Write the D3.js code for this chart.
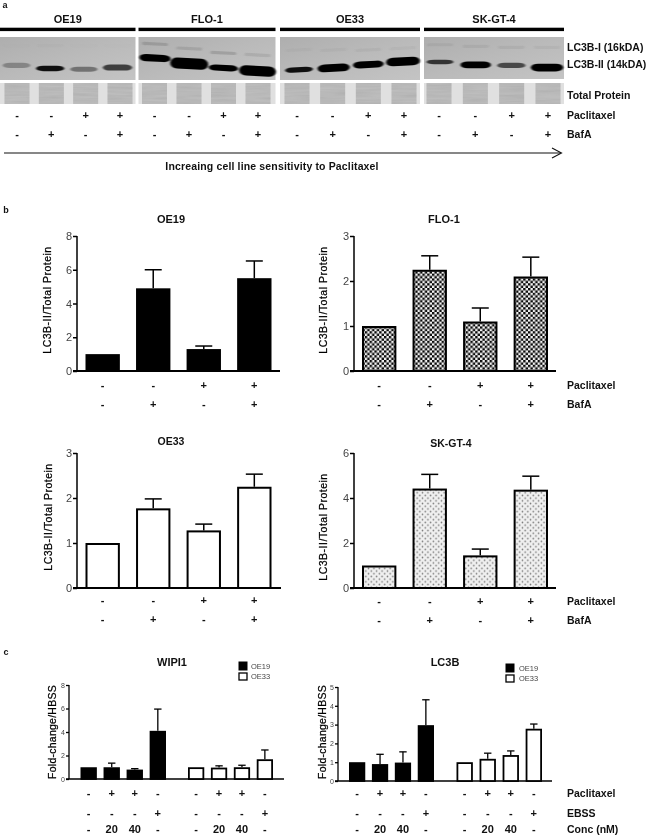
<!DOCTYPE html>
<html><head><meta charset="utf-8">
<script src="https://cdn.jsdelivr.net/npm/d3@7"></script>
<style>html,body{margin:0;padding:0;background:#fff}svg{display:block;filter:blur(0.3px)}text{font-family:"Liberation Sans",Arial,sans-serif;fill:#111}</style>
</head><body><svg id="c" width="649" height="835"></svg>
<script>
// ---- data ----
const cellLines = ["OE19","FLO-1","OE33","SK-GT-4"];
const paclitaxelSigns = ["-","-","+","+"];
const bafASigns = ["-","+","-","+"];
const oe19Values = [1,4.9,1.3,5.5];
const oe19Tops = [null,6.0,1.48,6.52];
const flo1Values = [1,2.25,1.1,2.1];
const flo1Tops = [null,2.56,1.4,2.53];
const oe33Values = [1,1.77,1.28,2.25];
const oe33Tops = [null,1.98,1.42,2.53];
const skgt4Values = [1,4.42,1.45,4.37];
const skgt4Tops = [null,5.05,1.73,4.97];
const wipiOE19 = [1,1,0.8,4.1];
const wipiOE19Tops = [null,1.35,0.88,5.95];
const wipiOE33 = [1,0.97,1,1.68];
const wipiOE33Tops = [null,1.12,1.17,2.47];
const lc3bOE19 = [1,0.9,0.98,2.97];
const lc3bOE19Tops = [null,1.42,1.55,4.32];
const lc3bOE33 = [1,1.18,1.38,2.78];
const lc3bOE33Tops = [null,1.48,1.6,3.03];
const cPaclitaxel = ["-","+","+","-"];
const cEBSS = ["-","-","-","+"];
const cConc = ["-","20","40","-"];
// blot band estimates: migration (0 top .. 1 bottom), amount (band size 0..1), density (darkness 0..1)
const bandIIMigration = [[.66,.73,.75,.71],[.49,.62,.72,.79],[.76,.72,.64,.57],[.58,.65,.66,.71]];
const bandIIAmount = [[.3,.35,.28,.42],[.55,1,.42,.92],[.32,.62,.52,.72],[.25,.5,.35,.62]];
const bandIIDensity = [[.28,.92,.4,.68],[1,1,1,1],[.92,1,1,1],[.72,1,.62,1]];
const bandIMigration = [[.2,.2,.2,.2],[.16,.27,.37,.42],[.3,.3,.3,.26],[.18,.22,.24,.24]];
const bandIDensity = [[.02,.03,.02,.02],[.3,.22,.3,.18],[.06,.07,.09,.08],[.12,.12,.12,.09]];

const svg = d3.select("#c");
const FS = '"Liberation Sans",Arial,sans-serif';
function txt(x,y,s,o={}){
  const t=svg.append("text").attr("x",x).attr("y",y).text(s)
    .attr("font-size",o.size||10).attr("font-weight",o.w||"bold")
    .attr("text-anchor",o.a||"middle").attr("dominant-baseline","central");
  if(o.ls)t.attr("letter-spacing",o.ls);
  if(o.fill)t.style("fill",o.fill);
  if(o.rot)t.attr("transform",`rotate(-90 ${x} ${y})`);
  return t;
}
const defs = svg.append("defs");
// patterns
const chk = defs.append("pattern").attr("id","chk").attr("width",4.8).attr("height",4.8).attr("patternUnits","userSpaceOnUse");
chk.append("rect").attr("width",4.8).attr("height",4.8).attr("fill","#f4f4f4");
chk.append("rect").attr("width",2.4).attr("height",2.4).attr("fill","#0a0a0a");
chk.append("rect").attr("x",2.4).attr("y",2.4).attr("width",2.4).attr("height",2.4).attr("fill","#0a0a0a");
const dot = defs.append("pattern").attr("id","dot").attr("width",5.4).attr("height",5.4).attr("patternUnits","userSpaceOnUse");
dot.append("rect").attr("width",5.4).attr("height",5.4).attr("fill","#f0f0f0");
dot.append("circle").attr("cx",1.35).attr("cy",1.35).attr("r",.8).attr("fill","#777");
dot.append("circle").attr("cx",4.05).attr("cy",4.05).attr("r",.8).attr("fill","#777");
// band blur
defs.append("filter").attr("id","blur").attr("x","-30%").attr("y","-80%").attr("width","160%").attr("height","260%")
  .append("feGaussianBlur").attr("stdDeviation","0.9 0.7");
const bg = defs.append("linearGradient").attr("id","bgGrad").attr("x1",0).attr("y1",0).attr("x2",1).attr("y2",1);
bg.append("stop").attr("offset",0).attr("stop-color","#aeaeae");
bg.append("stop").attr("offset",.5).attr("stop-color","#bababa");
bg.append("stop").attr("offset",1).attr("stop-color","#c4c4c4");
const tex = defs.append("filter").attr("id","tex").attr("x",0).attr("y",0).attr("width","100%").attr("height","100%");
tex.append("feTurbulence").attr("type","fractalNoise").attr("baseFrequency","0.03 0.4").attr("numOctaves",2).attr("seed",4).attr("result","n");
tex.append("feColorMatrix").attr("in","n").attr("type","matrix").attr("values","0 0 0 0 .3  0 0 0 0 .3  0 0 0 0 .3  .5 0 0 0 -.12").attr("result","m");
tex.append("feComposite").attr("in","m").attr("in2","SourceGraphic").attr("operator","in").attr("result","c");
const mg = tex.append("feMerge"); mg.append("feMergeNode").attr("in","SourceGraphic"); mg.append("feMergeNode").attr("in","c");

// ---- panel a ----
txt(5,5,"a",{size:9});
const blots=[{x0:0,x1:135.5,b:[16.5,117.5],l:[17,120],tilt:0},
             {x0:138.5,x1:275.5,b:[155,257.5],l:[154.5,258],tilt:3},
             {x0:280,x1:420,b:[299,403],l:[297,404],tilt:-3},
             {x0:424,x1:564,b:[440,547],l:[439,548],tilt:0}];
const migY = d3.scaleLinear().domain([0,1]).range([37,80]);
const bandH = d3.scaleLinear().domain([0,1]).range([2.5,11]);
const bandW = d3.scaleLinear().domain([0,1]).range([10.5,18]);
const tpW=25;
blots.forEach((b,i)=>{
  txt((b.x0+b.x1)/2,i==3?19:18.5,cellLines[i],{size:11});
  svg.append("rect").attr("x",b.x0).attr("y",27.7).attr("width",b.x1-b.x0).attr("height",3.4).attr("fill","#000");
  svg.append("rect").attr("x",b.x0).attr("y",37).attr("width",b.x1-b.x0).attr("height",i==3?42:43).attr("fill","url(#bgGrad)");
  const lane=d3.scalePoint().domain(d3.range(4)).range(b.b);
  const sign=d3.scalePoint().domain(d3.range(4)).range(b.l);
  const g=svg.append("g").attr("filter","url(#blur)");
  g.selectAll("rect.i").data(d3.range(4)).join(e=>e.append("rect").attr("class","i"))
    .attr("x",j=>lane(j)-13).attr("y",j=>migY(bandIMigration[i][j])-1.6).attr("width",26).attr("height",3.2).attr("rx",1.6)
    .attr("fill","#666").attr("opacity",j=>bandIDensity[i][j])
    .attr("transform",j=>`rotate(${b.tilt} ${lane(j)} ${migY(bandIMigration[i][j])})`);
  g.selectAll("rect.ii").data(d3.range(4)).join(e=>e.append("rect").attr("class","ii"))
    .attr("x",j=>lane(j)-bandW(bandIIAmount[i][j])-1).attr("width",j=>2*bandW(bandIIAmount[i][j])+2)
    .attr("y",j=>migY(bandIIMigration[i][j])-bandH(bandIIAmount[i][j])/2).attr("height",j=>bandH(bandIIAmount[i][j]))
    .attr("rx",j=>7).attr("ry",j=>bandH(bandIIAmount[i][j])/2)
    .attr("fill","#020202").attr("opacity",j=>bandIIDensity[i][j])
    .attr("transform",j=>`rotate(${b.tilt} ${lane(j)} ${migY(bandIIMigration[i][j])})`);
  // total protein strip
  svg.append("rect").attr("x",b.x0).attr("y",83).attr("width",b.x1-b.x0).attr("height",21).attr("fill","#e0e0e0");
  svg.append("g").selectAll("rect").data(d3.range(4)).join("rect")
    .attr("x",j=>sign(j)-tpW/2).attr("y",83).attr("width",tpW).attr("height",21)
    .attr("fill","#bdbdbd").attr("filter","url(#tex)");
  paclitaxelSigns.forEach((s,j)=>txt(sign(j),115,s,{size:11}));
  bafASigns.forEach((s,j)=>txt(sign(j),134,s,{size:11}));
});
[["LC3B-I (16kDA)",47],["LC3B-II (14kDA)",64],["Total Protein",95],["Paclitaxel",115],["BafA",134]]
  .forEach(([s,y])=>txt(567,y,s,{a:"start",size:10.5}));
svg.append("line").attr("x1",4).attr("x2",561).attr("y1",153).attr("y2",153).attr("stroke","#111").attr("stroke-width",1.1);
svg.append("path").attr("d",d3.line()([[552,148],[561.5,153],[552,158]])).attr("fill","none").attr("stroke","#111").attr("stroke-width",1.1);
txt(272,166,"Increaing cell line sensitivity to Paclitaxel",{size:10.5,ls:.15});

// ---- bar helpers ----
function axes(p){
  const y=d3.scaleLinear().domain([0,p.max]).range([p.y0,p.y1]);
  const g=svg.append("g").attr("transform",`translate(${p.ax},0)`)
    .call(d3.axisLeft(y).tickValues(p.ticks).tickSize(p.tick).tickPadding(1).tickFormat(d3.format("d")));
  g.select(".domain").attr("stroke","#000").attr("stroke-width",p.sw).attr("d",`M0,${p.y1}V${p.y0}`);
  g.selectAll(".tick line").attr("stroke","#000").attr("stroke-width",p.sw);
  g.selectAll(".tick text").attr("font-size",p.tf).attr("font-family",FS).style("fill","#444");
  svg.append("line").attr("x1",p.ax-p.tick).attr("x2",p.axEnd).attr("y1",p.y0).attr("y2",p.y0).attr("stroke","#000").attr("stroke-width",p.sw+.3);
  return y;
}
function bars(y,x,vals,tops,fill,p){
  const g=svg.append("g");
  vals.forEach((v,i)=>{ if(tops[i]==null)return;
    const cx=x(i)+x.bandwidth()/2;
    g.append("line").attr("x1",cx).attr("x2",cx).attr("y1",y(v)).attr("y2",y(tops[i])).attr("stroke","#000").attr("stroke-width",p.sw);
    g.append("line").attr("x1",cx-p.cap).attr("x2",cx+p.cap).attr("y1",y(tops[i])).attr("y2",y(tops[i])).attr("stroke","#000").attr("stroke-width",p.sw);
  });
  g.selectAll("rect").data(vals).join("rect")
    .attr("x",(d,i)=>x(i)+p.bs/2).attr("width",x.bandwidth()-p.bs).attr("y",d=>y(d)+p.bs/2).attr("height",d=>p.y0-y(d)-p.bs/2)
    .attr("fill",fill).attr("stroke","#000").attr("stroke-width",p.bs);
}
// ---- panel b ----
txt(6,210,"b",{size:9});
const bPanels=[
 {t:"OE19",tx:171,ty:218.5,sz:11,ax:77,y0:371,y1:236,max:8,ticks:[0,2,4,6,8],r:[85.5,271.5],axEnd:280,v:oe19Values,e:oe19Tops,f:"#000",lx:47,ly:300,s1:385,s2:404},
 {t:"FLO-1",tx:444,ty:218.5,sz:11,ax:354,y0:371,y1:236,max:3,ticks:[0,1,2,3],r:[362,548],axEnd:556,v:flo1Values,e:flo1Tops,f:"url(#chk)",lx:323,ly:300,s1:385,s2:404,rl:1},
 {t:"OE33",tx:171,ty:441,sz:10.5,ax:77,y0:588,y1:453,max:3,ticks:[0,1,2,3],r:[85.5,271.5],axEnd:281,v:oe33Values,e:oe33Tops,f:"#fff",lx:47.5,ly:517,s1:600,s2:619},
 {t:"SK-GT-4",tx:451,ty:443,sz:10.5,ax:354,y0:588,y1:453,max:6,ticks:[0,2,4,6],r:[362,548],axEnd:556,v:skgt4Values,e:skgt4Tops,f:"url(#dot)",lx:323,ly:527,s1:601,s2:620,rl:1}];
bPanels.forEach(p=>{
  Object.assign(p,{tick:4,sw:1.5,tf:11,bs:2,cap:8.5});
  const y=axes(p);
  const x=d3.scaleBand().domain(d3.range(4)).range(p.r).paddingInner(.32).paddingOuter(0);
  bars(y,x,p.v,p.e,p.f,p);
  txt(p.tx,p.ty,p.t,{size:p.sz});
  txt(p.lx,p.ly,"LC3B-II/Total Protein",{size:10.5,rot:1,ls:.5,w:"normal",fill:"#000"}).style("stroke","#000").style("stroke-width",.25);
  paclitaxelSigns.forEach((s,i)=>txt(x(i)+x.bandwidth()/2,p.s1,s,{size:11}));
  bafASigns.forEach((s,i)=>txt(x(i)+x.bandwidth()/2,p.s2,s,{size:11}));
  if(p.rl){txt(567,p.s1,"Paclitaxel",{a:"start",size:10.5});txt(567,p.s2,"BafA",{a:"start",size:10.5});}
});
// ---- panel c ----
txt(6,652,"c",{size:9});
const cPanels=[
 {t:"WIPI1",tx:172,ax:69,y0:779,y1:685,max:8,ticks:[0,2,4,6,8],axEnd:284,r1:[80.5,166],r2:[188,273],a:[wipiOE19,wipiOE19Tops],b:[wipiOE33,wipiOE33Tops],lx:52,leg:[239,662,673,251]},
 {t:"LC3B",tx:445,ax:338,y0:781,y1:687,max:5,ticks:[0,1,2,3,4,5],axEnd:552,r1:[349,434],r2:[456.5,542],a:[lc3bOE19,lc3bOE19Tops],b:[lc3bOE33,lc3bOE33Tops],lx:322,leg:[506,664,675,519],rl:1}];
cPanels.forEach(p=>{
  Object.assign(p,{tick:3,sw:1.3,tf:7,bs:1.8,cap:3.7});
  const y=axes(p);
  [[p.r1,p.a,"#000"],[p.r2,p.b,"#fff"]].forEach(([r,d,f])=>{
    const x=d3.scaleBand().domain(d3.range(4)).range(r).paddingInner(.29).paddingOuter(0);
    bars(y,x,d[0],d[1],f,p);
    const cx=i=>x(i)+x.bandwidth()/2;
    cPaclitaxel.forEach((s,i)=>txt(cx(i),793,s,{size:11}));
    cEBSS.forEach((s,i)=>txt(cx(i),813,s,{size:11}));
    cConc.forEach((s,i)=>txt(cx(i),829,s,{size:11}));
  });
  txt(p.tx,662,p.t,{size:11});
  txt(p.lx,732,"Fold-change/HBSS",{size:10.5,rot:1,ls:.25,w:"normal",fill:"#000"}).style("stroke","#000").style("stroke-width",.25);
  const [lx,ly1,ly2,tx]=p.leg;
  svg.append("rect").attr("x",lx).attr("y",ly1).attr("width",8).attr("height",8).attr("fill","#000").attr("stroke","#000");
  svg.append("rect").attr("x",lx).attr("y",ly2).attr("width",8).attr("height",7).attr("fill","#fff").attr("stroke","#000").attr("stroke-width",1.3);
  txt(tx,ly1+4,"OE19",{a:"start",size:7.5,w:"normal",fill:"#444"});
  txt(tx,ly2+3.5,"OE33",{a:"start",size:7.5,w:"normal",fill:"#444"});
  if(p.rl){txt(567,793,"Paclitaxel",{a:"start",size:10.5});txt(567,813,"EBSS",{a:"start",size:10.5});txt(567,829,"Conc (nM)",{a:"start",size:10.5});}
});
</script></body></html>
